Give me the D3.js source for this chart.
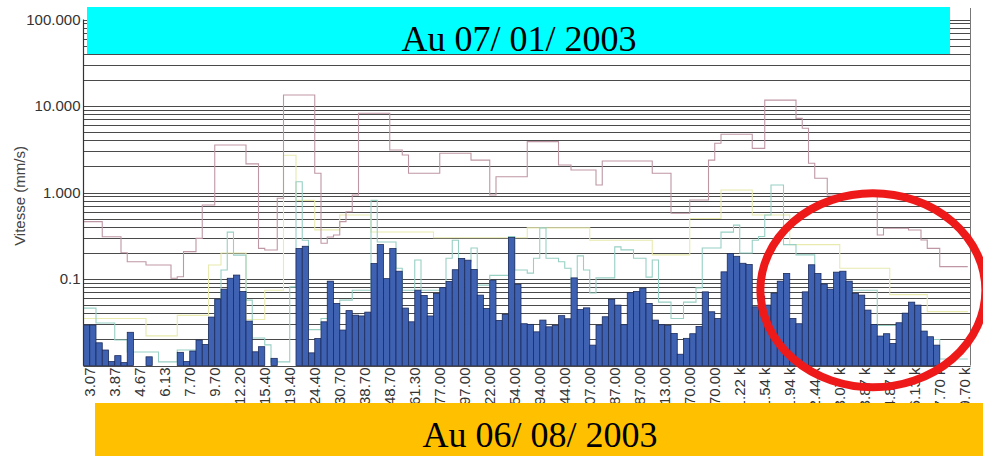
<!DOCTYPE html>
<html>
<head>
<meta charset="utf-8">
<script src="https://cdn.jsdelivr.net/npm/d3@7"></script>
<style>
  body { margin: 0; background: #fff; }
  svg { display: block; }
</style>
</head>
<body>
<div id="chart"></div>
<script>
// spectrum bars, one per band (null = below 0.01, not drawn)
const barValues = [
  0.0293, 0.0293, 0.0183, 0.0151, 0.0111, 0.0130, 0.0108, 0.0242, null, null,
  0.0126, null, null, null, null, 0.0142, 0.0111, 0.0147, 0.0197, 0.0175,
  0.0363, 0.0585, 0.0763, 0.102, 0.111, 0.0718, 0.0326, 0.0144, 0.0165, null,
  0.0121, null, null, null, 0.225, 0.239, 0.0140, 0.0205, 0.0320, 0.0944,
  0.0522, 0.0257, 0.0431, 0.0382, 0.0374, 0.0414, 0.151, 0.250, 0.101, 0.225,
  0.123, 0.0461, 0.0320, 0.0743, 0.0646, 0.0374, 0.0681, 0.0794, 0.0937, 0.128,
  0.173, 0.165, 0.129, 0.0651, 0.0457, 0.0969, 0.0332, 0.0390, 0.302, 0.0867,
  0.0304, 0.0299, 0.0245, 0.0335, 0.0280, 0.0291, 0.0377, 0.0347, 0.103, 0.0443,
  0.0464, 0.0172, 0.0293, 0.0366, 0.0582, 0.0499, 0.0296, 0.0695, 0.0718, 0.0784,
  0.0522, 0.0335, 0.0296, 0.0291, 0.0235, 0.0135, 0.0206, 0.0233, 0.0283, 0.0710,
  0.0418, 0.0350, 0.121, 0.197, 0.183, 0.152, 0.147, 0.0477, 0.0634, 0.0499,
  0.0686, 0.0944, 0.116, 0.0350, 0.0304, 0.0710, 0.146, 0.116, 0.0872, 0.0763,
  0.120, 0.123, 0.0944, 0.0681, 0.0651, 0.0437, 0.0297, 0.0219, 0.0233, 0.0180,
  0.0312, 0.0403, 0.0540, 0.0499, 0.0250, 0.0215, 0.0172, null, null, null,
  null
];

// x tick labels, one every 4 bands
const tickLabels = [
  "3.07", "3.87", "4.67", "6.13", "7.70", "9.70", "12.20", "15.40", "19.40",
  "24.40", "30.70", "38.70", "48.70", "61.30", "77.00", "97.00", "122.00",
  "154.00", "194.00", "244.00", "307.00", "387.00", "487.00", "613.00",
  "770.00", "970.00", "1.22 k", "1.54 k", "1.94 k", "2.44 k", "3.07 k",
  "3.87 k", "4.87 k", "6.13 k", "7.70 k", "9.70 k"
];

const yTicks = [100, 10, 1, 0.1];
const yTickLabels = ["100.000", "10.000", "1.000", "0.1"];

// step curves: band where each step starts, and its level
const pinkStarts = [0, 3, 6, 7, 10, 14, 15, 16, 18, 19, 21, 26, 28, 29, 31, 32, 37, 38, 39, 40,
  41, 42, 43, 44, 49, 51, 52, 57, 62, 65, 66, 71, 76, 78, 82, 83, 91, 94, 97, 100,
  101, 102, 107, 109, 114, 115, 116, 117, 119, 127, 128, 132, 134, 135, 137];
const pinkValues = [0.46, 0.308, 0.201, 0.158, 0.145, 0.102, 0.106, 0.207, 0.295, 0.717,
  3.54, 2.14, 0.226, 0.216, 0.857, 13.4, 1.67, 0.259, 0.306, 0.323,
  0.46, 0.60, 0.936, 8.23, 3.10, 2.71, 1.67, 2.84, 2.37, 0.936,
  1.52, 3.87, 2.08, 1.82, 1.22, 2.31, 1.67, 0.575, 0.819, 2.37,
  3.71, 4.71, 3.24, 11.7, 7.2, 5.52, 2.18, 1.46, 0.936, 0.323,
  0.386, 0.369, 0.282, 0.226, 0.139];

const tealStarts = [0, 2, 5, 7, 12, 15, 20, 21, 22, 23, 24, 26, 27, 29, 30, 33, 34, 35, 36, 38,
  41, 43, 46, 47, 50, 51, 53, 54, 58, 59, 60, 62, 63, 65, 68, 69, 71, 72, 73, 74,
  76, 77, 78, 79, 80, 81, 82, 85, 86, 88, 90, 91, 92, 94, 96, 98, 99, 102, 104, 105,
  107, 108, 109, 110, 112, 114, 117, 127, 131, 134, 137];
const tealValues = [0.046, 0.031, 0.0197, 0.0143, 0.011, 0.0151, 0.0257, 0.0572, 0.127, 0.348,
  0.189, 0.057, 0.0208, 0.0173, 0.011, 0.081, 1.33, 0.28, 0.026, 0.035,
  0.057, 0.074, 0.81, 0.268, 0.133, 0.074, 0.166, 0.074, 0.174, 0.28,
  0.158, 0.228, 0.085, 0.11, 0.31, 0.127, 0.117, 0.174, 0.39, 0.174,
  0.158, 0.133, 0.079, 0.185, 0.127, 0.069, 0.103, 0.235, 0.217, 0.174,
  0.105, 0.166, 0.054, 0.035, 0.054, 0.079, 0.228, 0.348, 0.42, 0.2,
  0.28, 0.31, 0.55, 1.22, 0.25, 0.19, 0.074, 0.029, 0.038, 0.02, 0.0119];

const yellowStarts = [0, 10, 15, 20, 22, 26, 29, 32, 34, 37, 41, 46, 56, 71, 81, 91, 97, 102, 107, 113,
  121, 129, 135];
const yellowValues = [0.035, 0.022, 0.038, 0.145, 0.2, 0.034, 0.074, 2.7, 0.81, 0.37,
  0.55, 0.35, 0.3, 0.39, 0.28, 0.19, 0.5, 1.07, 0.55, 0.25,
  0.133, 0.066, 0.042];

const width = 983;
const height = 456;
const plot = { left: 83.5, right: 964.75, frame: 970.5, top: 19.5, bottom: 365.5 };

const svg = d3.select("#chart")
  .append("svg")
  .attr("width", width)
  .attr("height", height)
  .style("background", "#fff");

const x = d3.scaleBand()
  .domain(d3.range(barValues.length))
  .range([plot.left, plot.right])
  .paddingInner(0)
  .paddingOuter(0);

const y = d3.scaleLog()
  .domain([0.01, 100])
  .range([plot.bottom, plot.top]);

// grid lines 1..9 per decade
svg.append("g")
  .selectAll("line")
  .data(y.ticks())
  .join("line")
  .attr("x1", plot.left)
  .attr("x2", plot.frame)
  .attr("y1", (d) => Math.round(y(d)) + 0.5)
  .attr("y2", (d) => Math.round(y(d)) + 0.5)
  .attr("stroke", "#4a4a4a")
  .attr("stroke-width", 1.1);

// step curves
const stepLine = d3.line()
  .x((d) => d[0])
  .y((d) => y(d[1]))
  .curve(d3.curveStepAfter);

function stepPoints(starts, values) {
  const pts = starts.map((s, i) => [x(s), values[i]]);
  pts.push([plot.right + 3, values[values.length - 1]]);
  return pts;
}

const curves = [
  { starts: yellowStarts, values: yellowValues, color: "#e8eaae" },
  { starts: tealStarts, values: tealValues, color: "#98d0c4" },
  { starts: pinkStarts, values: pinkValues, color: "#bf97a3" }
];

svg.append("g")
  .selectAll("path")
  .data(curves)
  .join("path")
  .attr("fill", "none")
  .attr("stroke", (d) => d.color)
  .attr("stroke-width", 1.1)
  .attr("d", (d) => stepLine(stepPoints(d.starts, d.values)));

// bars
svg.append("g")
  .selectAll("rect")
  .data(barValues.map((v, i) => ({ i, v })).filter((d) => d.v !== null))
  .join("rect")
  .attr("x", (d) => x(d.i))
  .attr("width", x.bandwidth())
  .attr("y", (d) => y(d.v))
  .attr("height", (d) => plot.bottom - y(d.v))
  .attr("fill", "#3f61b2")
  .attr("stroke", "#1d2c5a")
  .attr("stroke-width", 0.8);

// frame
svg.append("line")
  .attr("x1", plot.left).attr("x2", plot.left)
  .attr("y1", plot.top).attr("y2", plot.bottom)
  .attr("stroke", "#333").attr("stroke-width", 1.2);
svg.append("line")
  .attr("x1", plot.frame).attr("x2", plot.frame)
  .attr("y1", 8).attr("y2", plot.bottom)
  .attr("stroke", "#777").attr("stroke-width", 1);

// y axis
const yAxis = svg.append("g")
  .attr("transform", `translate(${plot.left},0)`)
  .call(d3.axisLeft(y).tickValues(yTicks).tickFormat((d, i) => yTickLabels[i]).tickSize(0).tickPadding(3));
yAxis.select(".domain").remove();
yAxis.selectAll("text")
  .style("font-family", "'Liberation Sans', Arial, sans-serif")
  .style("font-size", "15px")
  .style("fill", "#333");

svg.append("text")
  .attr("transform", `translate(25,196) rotate(-90)`)
  .attr("text-anchor", "middle")
  .style("font-family", "'Liberation Sans', Arial, sans-serif")
  .style("font-size", "15px")
  .style("fill", "#444")
  .text("Vitesse (mm/s)");

// x axis
const xAxis = svg.append("g")
  .attr("transform", `translate(0,${plot.bottom})`)
  .call(d3.axisBottom(x)
    .tickValues(d3.range(0, barValues.length, 4))
    .tickFormat((d) => tickLabels[d / 4])
    .tickSize(0));
xAxis.select(".domain").remove();
xAxis.selectAll("text")
  .attr("transform", "rotate(-90)")
  .attr("text-anchor", "end")
  .attr("x", -2)
  .attr("y", 0)
  .attr("dy", "0.55em")
  .style("font-family", "'Liberation Sans', Arial, sans-serif")
  .style("font-size", "15px")
  .style("fill", "#333");

// red highlight ellipse
svg.append("ellipse")
  .attr("cx", x(125) + x.bandwidth() * 1.3)
  .attr("cy", y(0.074))
  .attr("rx", x.bandwidth() * 18)
  .attr("ry", 97)
  .attr("fill", "none")
  .attr("stroke", "#ee1a1a")
  .attr("stroke-width", 8);

// date banners
svg.append("clipPath").attr("id", "topClip")
  .append("rect").attr("x", 87).attr("y", 7).attr("width", 863).attr("height", 47);
svg.append("rect")
  .attr("x", 87).attr("y", 7).attr("width", 863).attr("height", 47)
  .attr("fill", "#00ffff");
svg.append("text")
  .attr("clip-path", "url(#topClip)")
  .attr("x", 519).attr("y", 51)
  .attr("text-anchor", "middle")
  .style("font-family", "'Liberation Serif', 'Times New Roman', serif")
  .style("font-size", "36px")
  .style("fill", "#000")
  .text("Au 07/ 01/ 2003");

svg.append("rect")
  .attr("x", 95).attr("y", 403).attr("width", 888).attr("height", 53)
  .attr("fill", "#ffc000");
svg.append("text")
  .attr("x", 540).attr("y", 447)
  .attr("text-anchor", "middle")
  .style("font-family", "'Liberation Serif', 'Times New Roman', serif")
  .style("font-size", "36px")
  .style("fill", "#000")
  .text("Au 06/ 08/ 2003");
</script>
</body>
</html>
